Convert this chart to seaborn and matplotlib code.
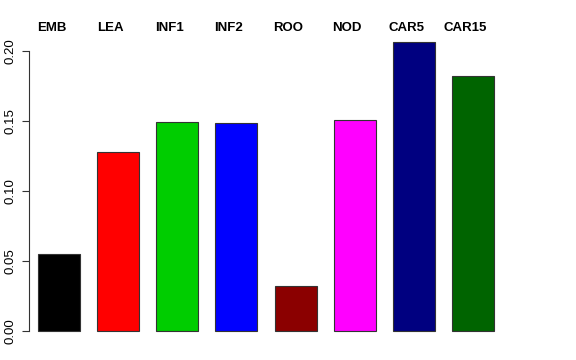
import numpy as np
import pandas as pd
import seaborn as sns
import matplotlib.pyplot as plt

# tissue labels and their values
tissues = ['EMB', 'LEA', 'INF1', 'INF2', 'ROO', 'NOD', 'CAR5', 'CAR15']
values = [0.055, 0.128, 0.149, 0.1485, 0.032, 0.151, 0.206, 0.182]
colors = ['#000000', '#FF0000', '#00CD00', '#0000FF', '#8B0000', '#FF00FF', '#000080', '#006400']
yticks = [0.00, 0.05, 0.10, 0.15, 0.20]

df = pd.DataFrame({'tissue': tissues, 'value': values})

sns.set_style('ticks')
plt.rcParams['font.family'] = ['Liberation Sans', 'DejaVu Sans']
plt.rcParams['text.color'] = 'black'
plt.rcParams['ytick.color'] = '#333333'
plt.rcParams['ytick.labelcolor'] = 'black'

fig = plt.figure(figsize=(5.76, 3.6), dpi=100)
ax = fig.add_axes([29 / 576, 17.5 / 360, 474 / 576, 311.5 / 360])

sns.barplot(data=df, x='tissue', y='value', hue='tissue', palette=colors, saturation=1,
            width=0.71, edgecolor='#333333', linewidth=0.8, legend=False, ax=ax)

ax.set_xlim(-0.51, 7.51)
ax.set_ylim(-0.0082, 0.2142)
ax.set_xlabel('')
ax.set_ylabel('')
ax.set_xticks([])
ax.set_yticks(yticks)
ax.set_yticklabels([f'{t:.2f}' for t in yticks], rotation=90, va='center', fontsize=9.5)
ax.tick_params(axis='y', length=5, width=0.8, pad=4)

for s in ['top', 'right', 'bottom']:
    ax.spines[s].set_visible(False)
ax.spines['left'].set_bounds(0, 0.2)
ax.spines['left'].set_linewidth(0.8)
ax.spines['left'].set_color('#333333')

# category names along the top, bold
for i, name in enumerate(tissues):
    ax.text(i - 0.13, 1.0 + 3 / 311.5, name, transform=ax.get_xaxis_transform(),
            ha='center', va='center', fontsize=9.5, fontweight='bold')

fig.savefig('out.png', dpi=100)
